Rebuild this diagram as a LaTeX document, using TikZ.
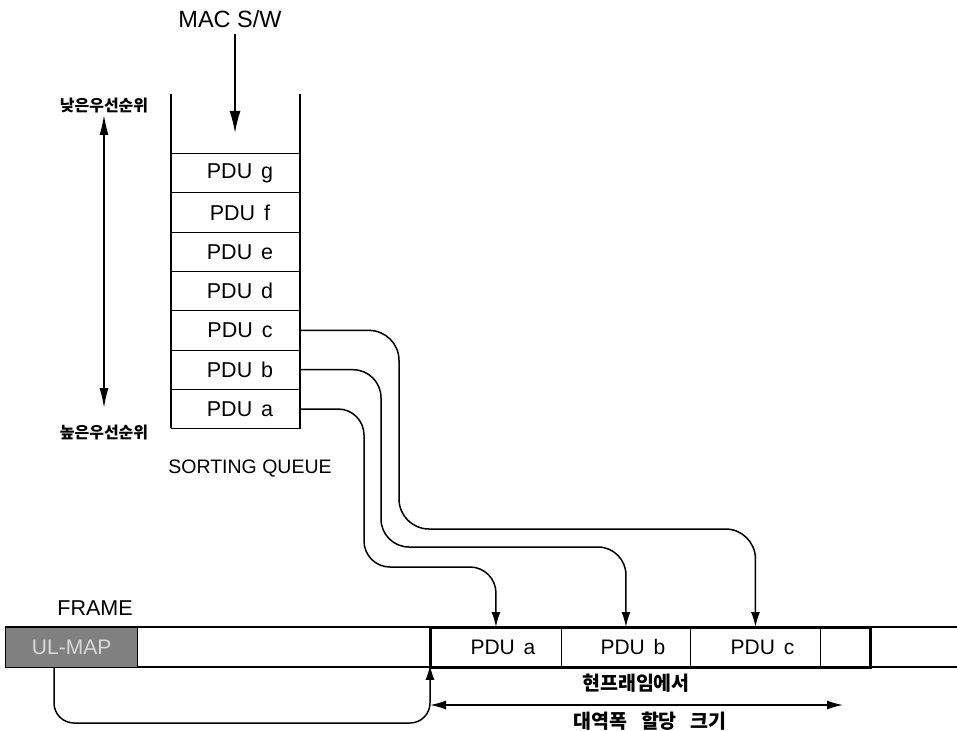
\documentclass[tikz,border=0pt]{standalone}
\usepackage{fontspec}
\setmainfont{Liberation Sans}
\newfontfamily\kr{Noto Sans CJK KR}
\usetikzlibrary{arrows.meta}
\begin{document}
\begin{tikzpicture}[x=1pt,y=-1pt,
  qbox/.style={draw,line width=1.1pt,minimum width=129pt,minimum height=39.3pt,inner sep=0pt,anchor=north west,font=\fontsize{21.5}{21.5}\selectfont},
  fcell/.style={draw,line width=0.9pt,minimum height=40pt,inner sep=0pt,anchor=north west,font=\fontsize{21}{21}\selectfont},
  conn/.style={line width=1.5pt,-{Latex[length=15pt,width=9pt]}},
  wall/.style={line width=1.6pt},
  lbl/.style={inner sep=0pt}
]
\useasboundingbox (0,0) rectangle (957,730);
% title and input arrow
\node[lbl,font=\fontsize{23.5}{23.5}\selectfont] (mac) at (230,19) {MAC S/W};
\coordinate (macin) at (235,133);
\draw[line width=1.5pt,-{Latex[length=22pt,width=11pt]}] (mac.south -| macin) ++(0,6) -- (macin);
% queue walls
\coordinate (wl) at (171,94);
\coordinate (wr) at (300,94);
\draw[wall] (wl) -- (171,428);
\draw[wall] (wr) -- (300,428);
% queue boxes
\node[qbox] (pg) at (171,153.0) {\hspace{8pt}PDU\hspace{3pt} g};
\node[qbox] (pf) at (171,192.3) {\hspace{8pt}PDU\hspace{3pt} f};
\node[qbox] (pe) at (171,231.6) {\hspace{8pt}PDU\hspace{3pt} e};
\node[qbox] (pd) at (171,270.9) {\hspace{8pt}PDU\hspace{3pt} d};
\node[qbox] (pc) at (171,310.2) {\hspace{8pt}PDU\hspace{3pt} c};
\node[qbox] (pb) at (171,349.5) {\hspace{8pt}PDU\hspace{3pt} b};
\node[qbox] (pa) at (171,388.8) {\hspace{8pt}PDU\hspace{3pt} a};
\node[lbl,font=\fontsize{19.5}{19.5}\selectfont] (sq) at (250,469) {SORTING QUEUE};
% priority
\node[lbl,font=\kr\bfseries\fontsize{16}{16}\selectfont] (low) at (104,106) {낮은우선순위};
\node[lbl,font=\kr\bfseries\fontsize{16}{16}\selectfont] (high) at (104,433) {높은우선순위};
\draw[line width=1.5pt,{Latex[length=20pt,width=9pt]}-{Latex[length=20pt,width=9pt]}] (104,115) -- (104,408);
% frame
\node[lbl,font=\fontsize{21.5}{21.5}\selectfont] (frame) at (95,608) {FRAME};
\draw[line width=1.5pt] (5,627) -- (957,627);
\draw[line width=1.5pt] (5,667) -- (957,667);
\node[draw,line width=1.3pt,fill=black!50,minimum width=132pt,minimum height=40pt,inner sep=0pt,anchor=north west,text=black!15,font=\fontsize{21}{21}\selectfont] (ulmap) at (5,627) {UL-MAP};
\node[fcell,minimum width=131pt] (fa) at (430,627) {\hspace{14pt}PDU\hspace{3pt} a};
\node[fcell,minimum width=129pt] (fb) at (561,627) {\hspace{14pt}PDU\hspace{3pt} b};
\node[fcell,minimum width=130pt] (fc) at (690,627) {\hspace{14pt}PDU\hspace{3pt} c};
\node[fcell,minimum width=50pt] (fe) at (820,627) {};
\draw[line width=3pt] (fa.north west) rectangle (fe.south east);
% connectors from queue to frame
\draw[conn,rounded corners=30pt] (pc.east) -| (399,529) -| (fc.north);
\draw[conn,rounded corners=28pt] (pb.east) -| (381,547) -| (fb.north);
\draw[conn,rounded corners=26pt] (pa.east) -| (364,567) -| (fa.north);
% UL-MAP pointer
\coordinate (ulstart) at (54,667);
\draw[conn,rounded corners=20pt] (ulstart) |- (430,723) -- ([yshift=3pt]fa.south west);
% bandwidth arrow
\coordinate (bwl) at (430,705);
\coordinate (bwr) at (843,705);
\draw[line width=1.5pt,{Latex[length=16pt,width=9pt]}-{Latex[length=16pt,width=9pt]}] (bwl) -- (bwr);
\node[lbl,font=\kr\bfseries\fontsize{19.5}{19.5}\selectfont] (bw1) at (636,683) {현프래임에서};
\node[lbl,font=\kr\bfseries\fontsize{19.5}{19.5}\selectfont] (bw2) at (650,721) {대역폭\hspace{14pt}할당\hspace{14pt}크기};
\end{tikzpicture}
\end{document}
